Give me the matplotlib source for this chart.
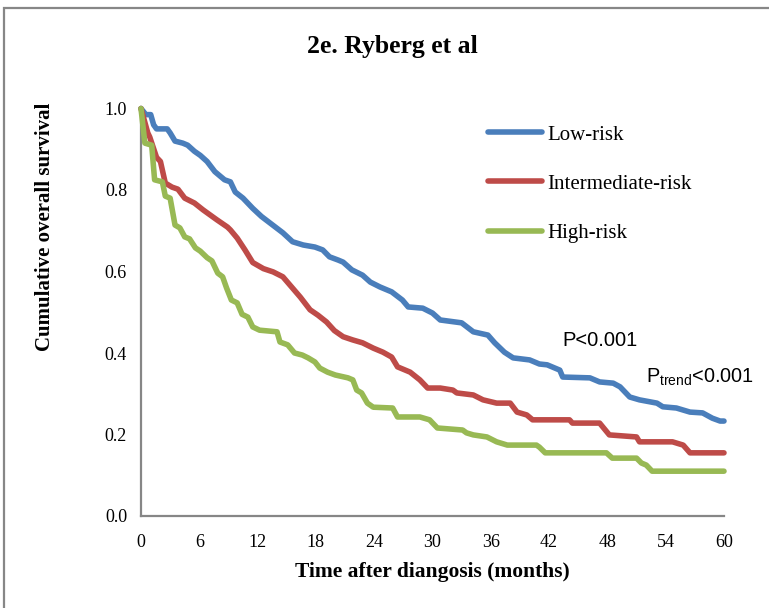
import matplotlib
matplotlib.use("Agg")
import matplotlib.pyplot as plt
from matplotlib.patches import Rectangle

# ---- data (months, cumulative survival) ----
low_t = [0, 0.5, 1.0, 1.3, 1.6, 2.7, 3.0, 3.5, 4.3, 4.8, 5.5, 6.1, 6.8, 7.6, 8.6, 9.2, 9.7,
         10.5, 11.5, 12.4, 13.5, 14.6, 15.6, 16.7, 17.9, 18.7, 19.4, 20.3, 20.8, 21.7, 22.8,
         23.6, 24.6, 25.8, 26.9, 27.5, 29.0, 30.0, 30.8, 33.0, 34.2, 35.7, 36.4, 37.4, 38.3,
         40.0, 41.0, 41.8, 43.1, 43.4, 46.2, 47.2, 48.6, 49.3, 50.3, 51.3, 53.1, 53.7, 55.1,
         56.5, 57.8, 58.8, 59.6, 60]
low_s = [1.0, 0.985, 0.985, 0.96, 0.95, 0.95, 0.94, 0.92, 0.915, 0.91, 0.895, 0.885, 0.87,
         0.845, 0.825, 0.82, 0.795, 0.78, 0.755, 0.735, 0.715, 0.695, 0.673, 0.665, 0.66,
         0.653, 0.636, 0.628, 0.623, 0.604, 0.591, 0.574, 0.562, 0.55, 0.53, 0.513, 0.51,
         0.498, 0.481, 0.474, 0.452, 0.444, 0.425, 0.402, 0.388, 0.383, 0.373, 0.371, 0.358,
         0.341, 0.339, 0.329, 0.326, 0.317, 0.292, 0.285, 0.277, 0.268, 0.265, 0.255, 0.253,
         0.24, 0.233, 0.233]

int_t = [0, 0.7, 0.9, 1.6, 2.0, 2.5, 3.2, 3.8, 4.5, 5.5, 6.4, 7.1, 7.8, 8.9, 9.2, 9.9, 10.7,
         11.5, 12.6, 13.6, 14.6, 15.5, 16.4, 17.4, 18.2, 19.1, 19.9, 20.8, 21.8, 22.8, 23.9,
         24.9, 25.8, 26.4, 27.7, 28.7, 29.5, 30.8, 32.1, 32.5, 34.2, 35.2, 36.6, 38.0, 38.7,
         39.7, 40.3, 44.1, 44.4, 47.2, 48.2, 51.0, 51.3, 54.7, 55.8, 56.5, 60]
int_s = [1.0, 0.94, 0.93, 0.88, 0.87, 0.817, 0.807, 0.802, 0.78, 0.768, 0.751, 0.739, 0.727,
         0.709, 0.702, 0.682, 0.653, 0.622, 0.607, 0.599, 0.587, 0.562, 0.537, 0.506, 0.493,
         0.476, 0.455, 0.44, 0.432, 0.425, 0.412, 0.402, 0.39, 0.366, 0.353, 0.334, 0.314,
         0.314, 0.309, 0.302, 0.297, 0.285, 0.277, 0.277, 0.255, 0.248, 0.236, 0.236, 0.228,
         0.228, 0.199, 0.194, 0.182, 0.182, 0.174, 0.155, 0.155]

high_t = [0, 0.4, 1.1, 1.4, 2.2, 2.5, 3.0, 3.5, 4.0, 4.5, 5.0, 5.6, 6.1, 6.8, 7.3, 7.9, 8.4,
          8.8, 9.3, 9.9, 10.4, 11.0, 11.5, 12.2, 14.0, 14.3, 15.1, 15.8, 16.6, 17.2, 17.9,
          18.4, 19.2, 20.0, 21.3, 21.8, 22.2, 22.7, 23.3, 23.9, 25.9, 26.4, 28.7, 29.7, 30.5,
          33.1, 33.5, 34.2, 35.6, 36.6, 37.7, 40.7, 41.0, 41.6, 47.9, 48.5, 51.0, 51.5, 52.0,
          52.6, 60]
high_s = [1.0, 0.915, 0.91, 0.825, 0.82, 0.785, 0.78, 0.714, 0.707, 0.685, 0.68, 0.658, 0.65,
          0.634, 0.626, 0.596, 0.587, 0.56, 0.53, 0.523, 0.495, 0.488, 0.464, 0.456, 0.452,
          0.427, 0.42, 0.40, 0.395, 0.388, 0.378, 0.363, 0.353, 0.346, 0.339, 0.334, 0.309,
          0.302, 0.277, 0.267, 0.265, 0.243, 0.243, 0.236, 0.216, 0.211, 0.204, 0.199, 0.194,
          0.182, 0.174, 0.174, 0.169, 0.155, 0.155, 0.142, 0.142, 0.13, 0.125, 0.11, 0.11]

series_names = ["Low-risk", "Intermediate-risk", "High-risk"]
series_colors = ["#4A7EBB", "#BE4B48", "#98B954"]
x_ticks = [0, 6, 12, 18, 24, 30, 36, 42, 48, 54, 60]
y_ticks = [0.0, 0.2, 0.4, 0.6, 0.8, 1.0]

plt.rcParams["font.family"] = ["Liberation Serif", "DejaVu Serif"]

fig = plt.figure(figsize=(7.69, 6.08), dpi=100)
ax = fig.add_axes([141/769, 1-516/608, (724-141)/769, (516-108.5)/608])

for t, s, name, c in zip([low_t, int_t, high_t], [low_s, int_s, high_s],
                         series_names, series_colors):
    ax.plot(t, s, color=c, lw=4.0, solid_capstyle="round", solid_joinstyle="round",
            label=name, clip_on=False, zorder=3)

ax.set_xlim(0, 60)
ax.set_ylim(0, 1.0)
ax.set_xticks(x_ticks)
ax.set_xticklabels([str(v) for v in x_ticks])
ax.set_yticks(y_ticks)
ax.set_yticklabels([f"{v:.1f}" for v in y_ticks])
ax.tick_params(length=0, labelsize=13, colors="black")
ax.tick_params(axis="x", pad=13)
ax.tick_params(axis="y", pad=10)
for sp in ["top", "right"]:
    ax.spines[sp].set_visible(False)
for sp in ["left", "bottom"]:
    ax.spines[sp].set_color("#868686")
    ax.spines[sp].set_linewidth(1.6)

ax.set_xlabel("Time after diangosis (months)", fontsize=15.5, fontweight="bold", labelpad=8)
fig.text(45/769, 1-227/608, "Cumulative overall survival", rotation=90, fontsize=15,
         fontweight="bold", ha="center", va="center")
fig.text(392/769, 1-46/608, "2e. Ryberg et al", fontsize=18.5, fontweight="bold",
         ha="center", va="center")

leg = ax.legend(loc="upper left", bbox_to_anchor=((488-141)/583, (516-125)/407.5),
                frameon=False, fontsize=15, handlelength=2.6, handletextpad=0.25,
                labelspacing=1.42, borderpad=0, borderaxespad=0)

ax.text(43.4, 0.43, "P<0.001", fontsize=14.5, family="Liberation Sans", va="center")
ax.text(52.0, 0.34, r"P$_{\mathregular{trend}}$<0.001", fontsize=14.3,
        family="Liberation Sans", va="center")

fig.patches.append(Rectangle((4/769, -0.05), 1.2, (608-8)/608 + 0.05,
                             transform=fig.transFigure, fill=False,
                             edgecolor="#878787", lw=1.6))

fig.savefig("out.png", dpi=100)
